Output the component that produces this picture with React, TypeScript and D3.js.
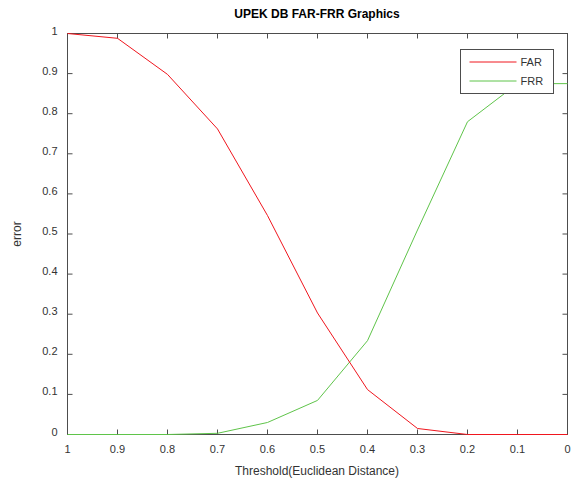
import React from 'react';
import * as d3 from 'd3';

const thresholds = [1, 0.9, 0.8, 0.7, 0.6, 0.5, 0.4, 0.3, 0.2, 0.1, 0];
const farValues = [1.0, 0.988, 0.898, 0.762, 0.546, 0.303, 0.112, 0.015, 0.0, 0.0, 0.0];
const frrValues = [0.0, 0.0, 0.0, 0.003, 0.03, 0.085, 0.234, 0.51, 0.78, 0.875, 0.875];
const xTicks = [1, 0.9, 0.8, 0.7, 0.6, 0.5, 0.4, 0.3, 0.2, 0.1, 0];
const yTicks = [0, 0.1, 0.2, 0.3, 0.4, 0.5, 0.6, 0.7, 0.8, 0.9, 1];

const width = 571;
const height = 481;
const margin = { top: 33.5, right: 3.5, bottom: 46.5, left: 67.5 };
const font = 'Arial, "Liberation Sans", sans-serif';
const axisColor = '#4d4d4d';
const textColor = '#333';

const App = () => {
  const x = d3.scaleLinear().domain([1, 0]).range([margin.left, width - margin.right]);
  const y = d3.scaleLinear().domain([0, 1]).range([height - margin.bottom, margin.top]);

  const line = d3
    .line<number>()
    .x((d, i) => x(thresholds[i]))
    .y(d => y(d));

  const x0 = x.range()[0];
  const x1 = x.range()[1];
  const y0 = y.range()[0];
  const y1 = y.range()[1];
  const tick = 5;

  return (
    <svg
      width={width}
      height={height}
      style={{ position: 'absolute', left: 0, top: 0, background: '#fff' }}
      fontFamily={font}
    >
      <rect width={width} height={height} fill="#fff" />
      {/* box */}
      <rect x={x0} y={y1} width={x1 - x0} height={y0 - y1} fill="none" stroke={axisColor} strokeWidth={1} />
      {/* x ticks */}
      {xTicks.map(t => (
        <g key={'x' + t}>
          <line x1={x(t)} x2={x(t)} y1={y0} y2={y0 - tick} stroke={axisColor} />
          <line x1={x(t)} x2={x(t)} y1={y1} y2={y1 + tick} stroke={axisColor} />
          <text x={x(t)} y={y0 + 18} fontSize={11} fill={textColor} textAnchor="middle">
            {String(t)}
          </text>
        </g>
      ))}
      {/* y ticks */}
      {yTicks.map(t => (
        <g key={'y' + t}>
          <line x1={x0} x2={x0 + tick} y1={y(t)} y2={y(t)} stroke={axisColor} />
          <line x1={x1} x2={x1 - tick} y1={y(t)} y2={y(t)} stroke={axisColor} />
          <text x={x0 - 10} y={y(t) + 1} fontSize={11} fill={textColor} textAnchor="end">
            {String(t)}
          </text>
        </g>
      ))}
      {/* lines */}
      <path d={line(frrValues) || ''} fill="none" stroke="#5fc44a" strokeWidth={1} />
      <path d={line(farValues) || ''} fill="none" stroke="#f0161e" strokeWidth={1} />
      {/* title & labels */}
      <text x={317} y={18} fontSize={12} fontWeight="bold" fill="#000" textAnchor="middle">
        UPEK DB FAR-FRR Graphics
      </text>
      <text x={317} y={475} fontSize={12} fill={textColor} textAnchor="middle">
        Threshold(Euclidean Distance)
      </text>
      <text transform={`translate(21,${(y0 + y1) / 2}) rotate(-90)`} fontSize={12} fill={textColor} textAnchor="middle">
        error
      </text>
      {/* legend */}
      <g transform="translate(460.5,49.5)">
        <rect width={93} height={44} fill="#fff" stroke={axisColor} />
        <line x1={9} x2={56} y1={12.5} y2={12.5} stroke="#f0161e" />
        <text x={60} y={16} fontSize={11} fill={textColor}>FAR</text>
        <line x1={9} x2={56} y1={31.5} y2={31.5} stroke="#5fc44a" />
        <text x={60} y={35} fontSize={11} fill={textColor}>FRR</text>
      </g>
    </svg>
  );
};

export default App;
